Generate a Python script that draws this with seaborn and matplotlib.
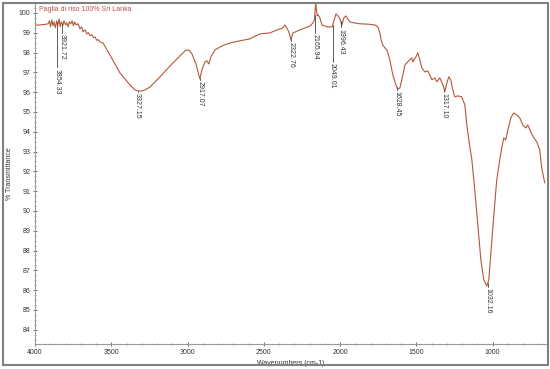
import numpy as np
import pandas as pd
import seaborn as sns
import matplotlib.pyplot as plt
from matplotlib.patches import Rectangle
from matplotlib.ticker import MultipleLocator

# spectrum (wavenumber cm-1, % transmittance)
wavenumbers = [
    4000, 3987, 3960, 3934, 3915, 3905, 3898, 3890, 3882, 3875, 3866, 3858, 3850,
    3842, 3835, 3827, 3818, 3810, 3800, 3792, 3783, 3775, 3766, 3757, 3748, 3740,
    3730, 3718, 3705, 3695, 3685, 3672, 3660, 3650, 3640, 3628, 3615, 3607, 3595,
    3585, 3574, 3560, 3554, 3509, 3443, 3377, 3345, 3325, 3300, 3279, 3246, 3181,
    3115, 3050, 3017, 2997, 2985, 2971, 2945, 2930, 2919, 2906, 2886, 2873, 2860,
    2847, 2820, 2775, 2722, 2657, 2591, 2526, 2460, 2414, 2375, 2362, 2342, 2330,
    2322, 2309, 2263, 2231, 2198, 2178, 2168, 2160, 2150, 2145, 2132, 2119, 2080,
    2052, 2027, 2014, 2001, 1988, 1975, 1962, 1949, 1936, 1903, 1870, 1838, 1800,
    1772, 1752, 1739, 1730, 1720, 1706, 1693, 1674, 1654, 1634, 1621, 1608, 1588,
    1575, 1556, 1543, 1530, 1523, 1516, 1503, 1490, 1477, 1464, 1444, 1425, 1412,
    1398, 1379, 1366, 1346, 1326, 1313, 1300, 1287, 1274, 1261, 1248, 1228, 1202,
    1182, 1169, 1156, 1136, 1117, 1097, 1077, 1058, 1038, 1025, 1012, 992, 973,
    953, 940, 927, 914, 900, 881, 861, 841, 822, 802, 782, 769, 750, 730, 710,
    691, 678, 658,
]
transmittance = [
    99.38, 99.38, 99.40, 99.42, 99.45, 99.60, 99.30, 99.65, 99.35, 99.55, 99.25, 99.60, 99.40,
    99.70, 99.30, 99.55, 99.35, 99.60, 99.40, 99.50, 99.30, 99.55, 99.45, 99.60, 99.35, 99.55,
    99.40, 99.45, 99.20, 99.30, 99.05, 99.14, 98.95, 99.00, 98.85, 98.90, 98.75, 98.78, 98.62,
    98.65, 98.54, 98.50, 98.48, 97.88, 96.97, 96.36, 96.11, 96.06, 96.06, 96.11, 96.26, 96.77,
    97.32, 97.83, 98.08, 98.13, 98.08, 97.93, 97.42, 96.97, 96.67, 97.12, 97.53, 97.58, 97.42,
    97.78, 98.13, 98.33, 98.48, 98.59, 98.69, 98.94, 98.99, 99.14, 99.24, 99.39, 99.14, 98.90,
    98.64, 98.99, 99.14, 99.24, 99.34, 99.49, 99.65, 100.51, 99.85, 99.90, 99.75, 99.39, 99.29,
    99.29, 99.95, 99.85, 99.70, 99.39, 99.75, 99.85, 99.70, 99.55, 99.49, 99.45, 99.44, 99.42,
    99.39, 99.29, 98.99, 98.60, 98.38, 98.23, 98.13, 97.63, 96.87, 96.36, 96.16, 96.21, 96.87,
    97.37, 97.53, 97.63, 97.73, 97.53, 97.63, 97.78, 97.98, 97.63, 97.22, 97.02, 97.07, 96.87,
    96.62, 96.72, 96.52, 96.72, 96.36, 96.06, 96.46, 96.77, 96.62, 96.11, 95.76, 95.81, 95.76,
    95.35, 94.34, 93.59, 92.58, 91.06, 89.29, 87.53, 86.52, 86.21, 86.52, 87.78, 89.80, 91.57,
    92.58, 93.18, 93.69, 93.59, 94.09, 94.70, 94.95, 94.85, 94.70, 94.34, 94.19, 94.34, 93.99,
    93.69, 93.48, 93.08, 92.17, 91.41,
]

# peak labels: wavenumber and the % T where the label starts
peak_wn = [3921.72, 3854.33, 3327.15, 2917.07, 2322.76, 2165.94, 2049.01, 1996.43, 1628.45, 1317.10, 1032.16]
peak_label_T = [98.99, 97.27, 96.02, 96.62, 98.60, 98.99, 97.53, 99.29, 96.12, 96.02, 86.17]

df = pd.DataFrame({"wavenumber": wavenumbers, "T": transmittance})

sns.set_style("white")
plt.rcParams["font.family"] = ["Liberation Sans", "DejaVu Sans"]

fig = plt.figure(figsize=(5.5, 3.69), dpi=100)
ax = fig.add_axes([35 / 550, 25 / 369, 511 / 550, 340 / 369])

line_color = "#b4573a"
sns.lineplot(data=df, x="wavenumber", y="T", ax=ax, color=line_color,
             linewidth=0.8, estimator=None)

ax.set_xlim(4000, 650)
ax.set_ylim(83.28, 100.45)

# peak markers and labels
curve_wn = np.array(wavenumbers[::-1], dtype=float)
curve_T = np.array(transmittance[::-1], dtype=float)
for wn, lab_T in zip(peak_wn, peak_label_T):
    top = np.interp(wn, curve_wn, curve_T)
    dx = 11 if wn == 3921.72 else 0
    trans = ax.transData
    if dx:
        import matplotlib.transforms as mtrans
        trans = ax.transData + mtrans.ScaledTranslation(dx / 72, 0, fig.dpi_scale_trans)
    ax.plot([wn, wn], [top, lab_T], color="#444444", lw=0.6, transform=trans)
    ax.text(wn, lab_T - 0.08, f"{wn:.2f}", rotation=270, ha="center", va="top",
            fontsize=5, color="#333333", transform=trans)

ax.text(3975, 100.15, "Paglia di riso 100% Sri Lanka", fontsize=5, color="#c0504d",
        ha="left", va="center")

ax.set_xticks(np.arange(4000, 999, -500))
ax.set_yticks(np.arange(84, 101, 1))
ax.xaxis.set_minor_locator(MultipleLocator(100))
ax.yaxis.set_minor_locator(MultipleLocator(0.25))
ax.tick_params(axis="both", which="major", labelsize=5, length=3, width=0.6,
               direction="inout", colors="#555555", labelcolor="#333333", pad=2)
ax.tick_params(axis="both", which="minor", length=1.5, width=0.5,
               direction="inout", colors="#888888")
ax.tick_params(left=True, bottom=True, which="both")

for side in ["top", "right"]:
    ax.spines[side].set_visible(False)
for side in ["left", "bottom"]:
    ax.spines[side].set_color("#999999")
    ax.spines[side].set_linewidth(0.8)

ax.set_xlabel("Wavenumbers (cm-1)", fontsize=5, color="#333333", labelpad=3)
ax.set_ylabel("% Transmittance", fontsize=5, color="#333333", labelpad=4)

fig.patches.append(Rectangle((3 / 550, 4 / 369), 545 / 550, 362 / 369,
                             transform=fig.transFigure, fill=False,
                             edgecolor="#808080", linewidth=1.5))

fig.savefig("out.png", dpi=100)
